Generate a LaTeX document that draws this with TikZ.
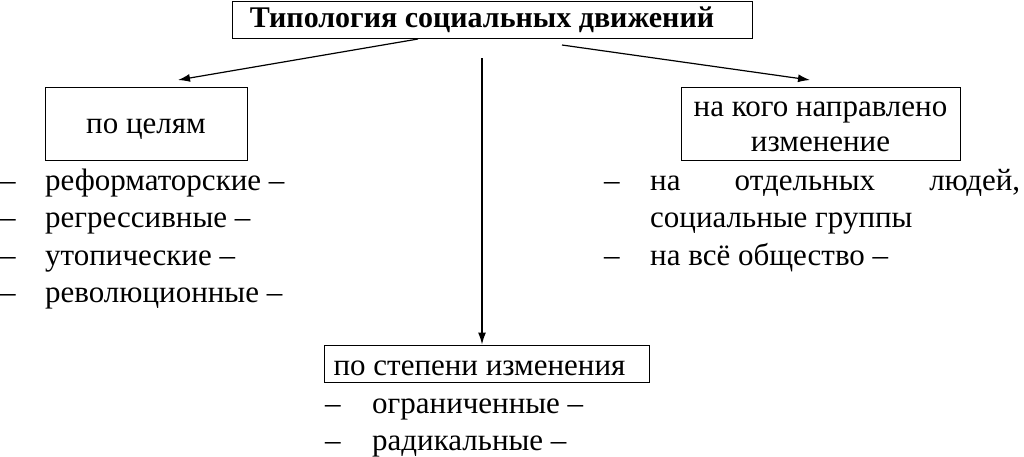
\documentclass[tikz,border=0pt]{standalone}
\usepackage{fontspec}
\setmainfont{Liberation Serif}
\usetikzlibrary{arrows.meta,calc}
\begin{document}
\begin{tikzpicture}[x=1pt,y=-1pt,
 txt/.style={font=\fontsize{31}{35}\selectfont},
 box/.style={draw,line width=1pt,inner sep=0pt,txt,align=center},
 item/.style={anchor=base west,inner sep=0pt,txt},
 arr/.style={line width=1.2pt,-{Latex[length=12pt,width=8pt]}}]
\useasboundingbox (0,0) rectangle (1024,456);
% boxes
\node[box,minimum width=520pt,minimum height=37pt,
      text height=21pt,text depth=6pt,font=\bfseries\fontsize{30}{35}\selectfont] (title) at (492,19.5) {Типология социальных движений\kern20pt};
\node[box,minimum width=202pt,minimum height=73pt,text height=27pt,text depth=7pt] (goals) at (146,123.5) {по целям};
\node[box,minimum width=279pt,minimum height=73pt] (whom) at (820.5,123.5) {\rule{0pt}{22pt}на кого направлено\\изменение};
\node[box,minimum width=325pt,minimum height=37pt,
      text height=30pt,text depth=7pt] (degree) at (486.5,363.5) {по степени изменения\kern14pt};
% arrows
\coordinate (s1) at (418,39);
\coordinate (s2) at (562,45);
\coordinate (s3) at (482,58);
\coordinate (e1) at (178,80);
\coordinate (e2) at (810,80);
\draw[arr] (s1) -- (e1);
\draw[arr] (s2) -- (e2);
\draw[arr] (s3) -- (s3 |- degree.north);
% left list
\node[item] (ld1) at (0,190) {–};
\node[item] (l1) at (45,190) {реформаторские –};
\node[item] (ld2) at (0,227.5) {–};
\node[item] (l2) at (45,227.5) {регрессивные –};
\node[item] (ld3) at (0,265) {–};
\node[item] (l3) at (45,265) {утопические –};
\node[item] (ld4) at (0,302.5) {–};
\node[item] (l4) at (45,302.5) {революционные –};
% right list
\node[item] (rd1) at (604,190) {–};
\node[item] (r1) at (650,190) {\makebox[370pt][s]{на\hfill отдельных\hfill людей,}};
\node[item] (r2) at (650,227.5) {социальные группы};
\node[item] (rd3) at (604,265) {–};
\node[item] (r3) at (650,265) {на всё общество –};
% bottom list
\node[item] (bd1) at (325,413) {–};
\node[item] (b1) at (372,413) {ограниченные –};
\node[item] (bd2) at (325,450) {–};
\node[item] (b2) at (372,450) {радикальные –};
\end{tikzpicture}
\end{document}
